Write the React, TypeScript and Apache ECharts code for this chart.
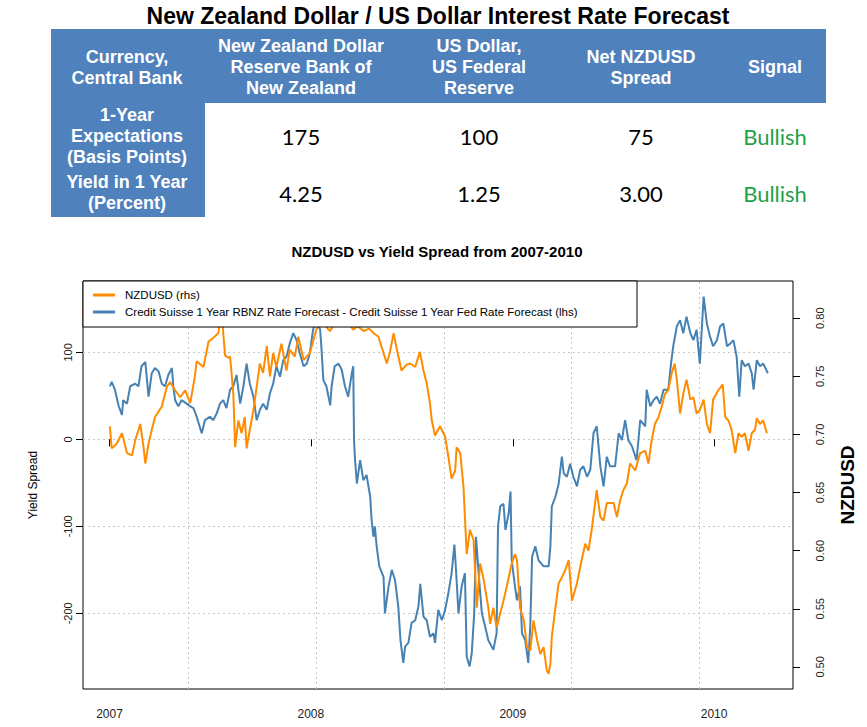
import React, { useEffect, useRef } from "react";
import * as echarts from "echarts";

const mainTitle = "New Zealand Dollar / US Dollar Interest Rate Forecast";
const chartTitle = "NZDUSD vs Yield Spread from 2007-2010";
const headerLabels = [
  "Currency,\nCentral Bank",
  "New Zealand Dollar\nReserve Bank of\nNew Zealand",
  "US Dollar,\nUS Federal\nReserve",
  "Net NZDUSD\nSpread",
  "Signal",
];
const rowLabels = ["1-Year\nExpectations\n(Basis Points)", "Yield in 1 Year\n(Percent)"];
const expectationsRow = ["175", "100", "75", "Bullish"];
const yieldRow = ["4.25", "1.25", "3.00", "Bullish"];

const nzdName = "NZDUSD (rhs)";
const spreadName =
  "Credit Suisse 1 Year RBNZ Rate Forecast - Credit Suisse 1 Year Fed Rate Forecast (lhs)";

const xTickYears = [2007, 2008, 2009, 2010];
const leftTicks = [-200, -100, 0, 100];
const rightTicks = [0.5, 0.55, 0.6, 0.65, 0.7, 0.75, 0.8];
// dotted vertical grid lines (R pretty() positions, seconds since 1970)
const gridSeconds = [1.18e9, 1.2e9, 1.22e9, 1.24e9, 1.26e9];

// Yield spread (basis points, left axis), dates as decimal years
const spreadYears = [
  2007.002, 2007.011, 2007.027, 2007.046, 2007.062, 2007.068, 2007.087, 2007.103, 2007.128, 2007.144,
  2007.159, 2007.178, 2007.194, 2007.21, 2007.226, 2007.244, 2007.26, 2007.276, 2007.292, 2007.31,
  2007.317, 2007.326, 2007.342, 2007.358, 2007.383, 2007.401, 2007.417, 2007.433, 2007.458, 2007.474,
  2007.499, 2007.515, 2007.533, 2007.549, 2007.565, 2007.581, 2007.599, 2007.615, 2007.631, 2007.649,
  2007.665, 2007.681, 2007.697, 2007.715, 2007.731, 2007.747, 2007.763, 2007.781, 2007.797, 2007.813,
  2007.829, 2007.847, 2007.863, 2007.879, 2007.895, 2007.913, 2007.929, 2007.945, 2007.964, 2007.98,
  2007.995, 2008.011, 2008.027, 2008.046, 2008.052, 2008.062, 2008.077, 2008.096, 2008.103, 2008.118,
  2008.137, 2008.153, 2008.169, 2008.185, 2008.203, 2008.21, 2008.214, 2008.219, 2008.228, 2008.244,
  2008.26, 2008.276, 2008.294, 2008.301, 2008.31, 2008.317, 2008.326, 2008.339, 2008.36, 2008.367,
  2008.385, 2008.401, 2008.417, 2008.433, 2008.444, 2008.458, 2008.467, 2008.483, 2008.499, 2008.517,
  2008.533, 2008.542, 2008.558, 2008.574, 2008.59, 2008.608, 2008.615, 2008.631, 2008.649, 2008.665,
  2008.681, 2008.697, 2008.711, 2008.72, 2008.731, 2008.747, 2008.763, 2008.772, 2008.786, 2008.797,
  2008.809, 2008.818, 2008.831, 2008.847, 2008.863, 2008.879, 2008.904, 2008.92, 2008.927, 2008.938,
  2008.954, 2008.964, 2008.98, 2008.989, 2008.995, 2009.011, 2009.021, 2009.036, 2009.046, 2009.062,
  2009.071, 2009.077, 2009.087, 2009.096, 2009.112, 2009.128, 2009.153, 2009.178, 2009.187, 2009.194,
  2009.212, 2009.228, 2009.244, 2009.253, 2009.269, 2009.285, 2009.301, 2009.319, 2009.335, 2009.351,
  2009.369, 2009.385, 2009.401, 2009.417, 2009.435, 2009.451, 2009.467, 2009.483, 2009.508, 2009.526,
  2009.542, 2009.558, 2009.574, 2009.592, 2009.615, 2009.633, 2009.658, 2009.665, 2009.683, 2009.699,
  2009.715, 2009.731, 2009.749, 2009.772, 2009.786, 2009.797, 2009.815, 2009.831, 2009.847, 2009.863,
  2009.882, 2009.897, 2009.913, 2009.929, 2009.948, 2009.964, 2009.98, 2009.995, 2010.014, 2010.03,
  2010.046, 2010.064, 2010.08, 2010.096, 2010.112, 2010.125, 2010.137, 2010.153, 2010.171, 2010.187,
  2010.196, 2010.212, 2010.228, 2010.244, 2010.267,
];
const spreadValues = [
  61, 66, 57, 38, 28, 45, 41, 61, 64, 61,
  84, 89, 49, 76, 82, 78, 64, 61, 74, 82,
  61, 45, 38, 45, 41, 38, 36, 26, 7, 22,
  26, 22, 30, 41, 45, 36, 57, 61, 74, 41,
  61, 87, 64, 49, 22, 34, 41, 34, 53, 64,
  84, 72, 91, 95, 110, 122, 114, 99, 84, 87,
  99, 126, 137, 126, 107, 68, 61, 39, 61, 84,
  87, 80, 61, 49, 76, 84, -1, -24, -51, -24,
  -47, -41, -66, -93, -112, -100, -123, -146, -158, -200,
  -169, -150, -162, -192, -231, -257, -238, -234, -211, -208,
  -192, -166, -204, -208, -227, -223, -234, -196, -208, -196,
  -177, -154, -121, -154, -200, -169, -154, -250, -261, -246,
  -200, -112, -154, -200, -215, -231, -242, -223, -100, -77,
  -74, -104, -85, -60, -139, -169, -185, -169, -223, -231,
  -246, -257, -215, -135, -123, -139, -146, -146, -123, -77,
  -66, -51, -20, -39, -43, -28, -43, -54, -35, -31,
  -43, -35, 7, 15, -31, -54, -20, -31, -31, 7,
  -1, 22, -1, -8, -24, 22, 15, 57, 38, 45,
  49, 41, 57, 57, 87, 107, 130, 137, 122, 141,
  122, 114, 126, 87, 164, 133, 118, 107, 114, 130,
  133, 107, 110, 114, 95, 49, 91, 84, 87, 76,
  57, 91, 84, 87, 76,
];

// NZDUSD exchange rate (right axis), dates as decimal years
const nzdYears = [
  2007.002, 2007.011, 2007.036, 2007.062, 2007.087, 2007.112, 2007.128, 2007.153, 2007.169, 2007.178,
  2007.194, 2007.21, 2007.226, 2007.26, 2007.285, 2007.301, 2007.326, 2007.351, 2007.376, 2007.401,
  2007.424, 2007.433, 2007.467, 2007.492, 2007.515, 2007.54, 2007.558, 2007.565, 2007.574, 2007.59,
  2007.599, 2007.615, 2007.624, 2007.64, 2007.656, 2007.672, 2007.681, 2007.697, 2007.715, 2007.731,
  2007.747, 2007.763, 2007.781, 2007.797, 2007.813, 2007.829, 2007.854, 2007.879, 2007.895, 2007.92,
  2007.938, 2007.964, 2007.995, 2008.027, 2008.052, 2008.084, 2008.096, 2008.13, 2008.159, 2008.187,
  2008.21, 2008.232, 2008.262, 2008.289, 2008.312, 2008.335, 2008.36, 2008.376, 2008.392, 2008.41,
  2008.426, 2008.449, 2008.474, 2008.492, 2008.517, 2008.54, 2008.558, 2008.574, 2008.59, 2008.599,
  2008.615, 2008.64, 2008.665, 2008.681, 2008.697, 2008.715, 2008.722, 2008.74, 2008.756, 2008.772,
  2008.788, 2008.806, 2008.822, 2008.838, 2008.854, 2008.879, 2008.888, 2008.904, 2008.92, 2008.938,
  2008.954, 2008.97, 2008.995, 2009.011, 2009.021, 2009.036, 2009.055, 2009.071, 2009.087, 2009.103,
  2009.121, 2009.137, 2009.153, 2009.169, 2009.178, 2009.187, 2009.194, 2009.212, 2009.228, 2009.244,
  2009.26, 2009.278, 2009.294, 2009.319, 2009.335, 2009.36, 2009.376, 2009.392, 2009.417, 2009.435,
  2009.451, 2009.467, 2009.483, 2009.501, 2009.517, 2009.533, 2009.549, 2009.567, 2009.583, 2009.608,
  2009.633, 2009.658, 2009.674, 2009.69, 2009.706, 2009.724, 2009.74, 2009.756, 2009.772, 2009.79,
  2009.804, 2009.815, 2009.831, 2009.847, 2009.863, 2009.882, 2009.897, 2009.913, 2009.929, 2009.948,
  2009.964, 2009.98, 2009.995, 2010.021, 2010.043, 2010.055, 2010.071, 2010.087, 2010.105, 2010.121,
  2010.137, 2010.153, 2010.171, 2010.187, 2010.203, 2010.212, 2010.228, 2010.244, 2010.262,
];
const nzdValues = [
  0.707, 0.688, 0.692, 0.701, 0.684, 0.682, 0.695, 0.709, 0.689, 0.675,
  0.692, 0.704, 0.715, 0.724, 0.741, 0.745, 0.738, 0.732, 0.738, 0.727,
  0.75, 0.763, 0.758, 0.78, 0.783, 0.787, 0.805, 0.787, 0.768, 0.766,
  0.767, 0.735, 0.689, 0.712, 0.701, 0.715, 0.688, 0.704, 0.721, 0.741,
  0.761, 0.753, 0.776, 0.75, 0.77, 0.758, 0.778, 0.755, 0.773, 0.767,
  0.784, 0.764, 0.77, 0.79, 0.799, 0.791, 0.789, 0.799, 0.807, 0.796,
  0.79, 0.793, 0.789, 0.791, 0.787, 0.784, 0.77, 0.761, 0.771, 0.787,
  0.773, 0.755, 0.76, 0.761, 0.758, 0.771, 0.755, 0.744, 0.727, 0.712,
  0.699, 0.707, 0.698, 0.681, 0.662, 0.669, 0.689, 0.684, 0.655, 0.597,
  0.618, 0.609, 0.551, 0.589, 0.577, 0.551, 0.537, 0.551, 0.534, 0.546,
  0.557, 0.569, 0.589, 0.597, 0.592, 0.551, 0.54, 0.517, 0.514, 0.54,
  0.523, 0.511, 0.517, 0.497, 0.494, 0.503, 0.526, 0.551, 0.572, 0.577,
  0.583, 0.592, 0.557, 0.572, 0.586, 0.606, 0.6, 0.618, 0.652, 0.629,
  0.626, 0.641, 0.641, 0.641, 0.629, 0.643, 0.652, 0.658, 0.675, 0.669,
  0.684, 0.686, 0.675, 0.695, 0.709, 0.715, 0.724, 0.735, 0.738, 0.753,
  0.761, 0.747, 0.718, 0.735, 0.747, 0.73, 0.732, 0.718, 0.721, 0.73,
  0.709, 0.701, 0.73, 0.738, 0.743, 0.715, 0.712, 0.704, 0.684, 0.701,
  0.698, 0.701, 0.686, 0.701, 0.704, 0.714, 0.709, 0.712, 0.701,
];

const FF = "'Liberation Sans', Arial, Helvetica, sans-serif";
const BLUE_HDR = "#4F81BD";
const GREEN = "#1FA048";

function yr2ms(y: number): number {
  const Y = Math.floor(y);
  const a = Date.UTC(Y, 0, 1);
  const b = Date.UTC(Y + 1, 0, 1);
  return a + (y - Y) * (b - a);
}

function txt(text: string, x: number, y: number, style: any) {
  return {
    type: "text",
    x,
    y,
    silent: true,
    style: {
      text,
      textAlign: "center",
      textVerticalAlign: "middle",
      align: "center",
      verticalAlign: "middle",
      fontFamily: FF,
      ...style,
    },
  };
}

export default function App() {
  const ref = useRef<HTMLDivElement>(null);

  useEffect(() => {
    if (!ref.current) return;
    const chart = echarts.init(ref.current, undefined, { renderer: "svg" });

    const colX = [127, 301, 479, 641, 775];
    const graphics: any[] = [
      txt(mainTitle, 438, 16, { fontSize: 23, fontWeight: "bold", fill: "#000" }),
      { type: "rect", silent: true, shape: { x: 51, y: 29, width: 775, height: 74 }, style: { fill: BLUE_HDR } },
      { type: "rect", silent: true, shape: { x: 51, y: 103, width: 154, height: 114 }, style: { fill: BLUE_HDR } },
    ];
    headerLabels.forEach((h, i) => {
      graphics.push(txt(h, colX[i], 67, { fontSize: 18, lineHeight: 21, fontWeight: "bold", fill: "#fff" }));
    });
    graphics.push(txt(rowLabels[0], colX[0], 136, { fontSize: 18, lineHeight: 21, fontWeight: "bold", fill: "#fff" }));
    graphics.push(txt(rowLabels[1], colX[0], 192, { fontSize: 18, lineHeight: 21, fontWeight: "bold", fill: "#fff" }));
    [expectationsRow, yieldRow].forEach((row, r) => {
      row.forEach((v, i) => {
        graphics.push(
          txt(v, colX[i + 1], r === 0 ? 136 : 193, {
            fontSize: 22,
            fontFamily: "Lato, 'Open Sans', sans-serif",
            fill: v === "Bullish" ? GREEN : "#000",
          })
        );
      });
    });
    graphics.push(txt(chartTitle, 437, 251, { fontSize: 15, fontWeight: "bold", fill: "#000" }));

    const xMin = Date.UTC(2006, 10, 14);
    const xMax = Date.UTC(2010, 4, 24);
    const xTicks = xTickYears.map((y) => Date.UTC(y, 0, 1));

    const option: any = {
      animation: false,
      backgroundColor: "#fff",
      graphic: { elements: graphics },
      grid: {
        left: 83,
        top: 281,
        width: 710,
        height: 408,
        show: true,
        borderColor: "#000",
        borderWidth: 1,
        backgroundColor: "transparent",
        containLabel: false,
        outerBoundsMode: "none",
      },
      legend: {
        show: true,
        orient: "vertical",
        left: 83,
        top: 281,
        icon: "rect",
        itemWidth: 22,
        itemHeight: 3,
        itemGap: 3,
        padding: [7, 7, 8, 10],
        backgroundColor: "#fff",
        borderColor: "#000",
        borderWidth: 1,
        borderRadius: 0,
        selectedMode: false,
        data: [nzdName, spreadName],
        textStyle: {
          fontSize: 11.5,
          fontFamily: FF,
          color: "#000",
          lineHeight: 14,
          width: 505,
          overflow: "none",
          padding: [0, 0, 0, 5],
        },
      },
      xAxis: {
        type: "value",
        min: xMin,
        max: xMax,
        axisLine: { show: false },
        axisTick: { show: true, length: 7, customValues: xTicks, lineStyle: { color: "#000" } },
        axisLabel: {
          customValues: xTicks,
          formatter: (v: number) => String(new Date(v).getUTCFullYear()),
          fontSize: 12,
          lineHeight: 12,
          color: "#222",
          fontFamily: FF,
          margin: 19,
        },
        splitLine: { show: false },
      },
      yAxis: [
        {
          type: "value",
          position: "left",
          min: -287,
          max: 182,
          axisLine: { show: false },
          axisTick: { show: true, length: 7, customValues: leftTicks, lineStyle: { color: "#000" } },
          axisLabel: {
            customValues: leftTicks,
            rotate: 90,
            fontSize: 11,
            lineHeight: 11,
            margin: 10,
            color: "#222",
            fontFamily: FF,
          },
          splitLine: { show: true, lineStyle: { color: "#c8c8c8", type: [2, 3], width: 1 } },
          name: "Yield Spread",
          nameLocation: "middle",
          nameRotate: 90,
          nameGap: 44,
          nameMoveOverlap: false,
          nameTextStyle: { fontSize: 12, lineHeight: 12, color: "#000", fontFamily: FF },
        },
        {
          type: "value",
          position: "right",
          min: 0.481,
          max: 0.832,
          axisLine: { show: false },
          axisTick: { show: true, length: 7, customValues: rightTicks, lineStyle: { color: "#000" } },
          axisLabel: {
            customValues: rightTicks,
            formatter: (v: number) => v.toFixed(2),
            rotate: 90,
            fontSize: 11,
            lineHeight: 11,
            margin: 21,
            color: "#222",
            fontFamily: FF,
          },
          splitLine: { show: false },
          name: "NZDUSD",
          nameLocation: "middle",
          nameRotate: 90,
          nameGap: 45,
          nameMoveOverlap: false,
          nameTextStyle: { fontSize: 19, lineHeight: 19, fontWeight: "bold", color: "#000", fontFamily: FF },
        },
      ],
      series: [
        {
          name: spreadName,
          type: "line",
          yAxisIndex: 0,
          data: spreadYears.map((y, i) => [yr2ms(y), spreadValues[i]]),
          showSymbol: false,
          symbol: "none",
          lineStyle: { color: "#4682B4", width: 2 },
          itemStyle: { color: "#4682B4" },
          z: 2,
          markLine: {
            silent: true,
            symbol: "none",
            z: 1,
            label: { show: false },
            lineStyle: { color: "#c8c8c8", type: [2, 3], width: 1 },
            data: gridSeconds.map((s) => ({ xAxis: s * 1000 })),
          },
        },
        {
          name: nzdName,
          type: "line",
          yAxisIndex: 1,
          data: nzdYears.map((y, i) => [yr2ms(y), nzdValues[i]]),
          showSymbol: false,
          symbol: "none",
          lineStyle: { color: "#FF8C00", width: 2 },
          itemStyle: { color: "#FF8C00" },
          z: 3,
        },
      ],
    };

    chart.setOption(option);
    return () => chart.dispose();
  }, []);

  return (
    <div
      ref={ref}
      style={{ position: "absolute", left: 0, top: 0, width: 867, height: 727, background: "#fff" }}
    />
  );
}
